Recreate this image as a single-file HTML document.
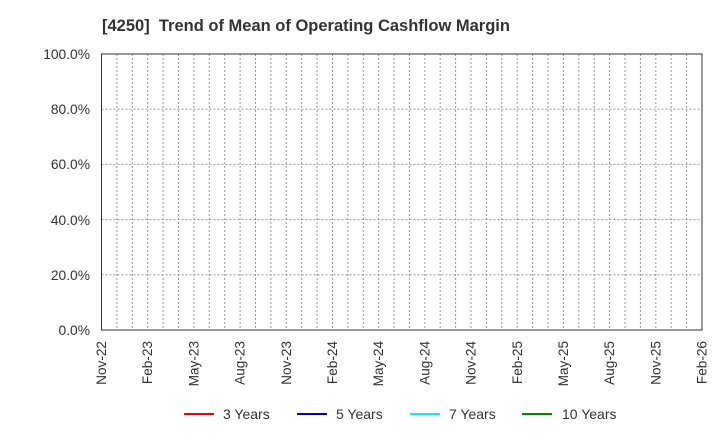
<!DOCTYPE html>
<html><head><meta charset="utf-8"><style>body{margin:0;background:#fff}svg{display:block}</style></head><body>
<svg width="720" height="440" xmlns="http://www.w3.org/2000/svg" font-family="Liberation Sans, sans-serif">
<text x="102" y="31" font-size="16.5" font-weight="bold" fill="#333">[4250]&#160; Trend of Mean of Operating Cashflow Margin</text>
<path fill="none" stroke="#999" stroke-dasharray="2,2" d="M116.9 54V330M132.3 54V330M147.7 54V330M163.1 54V330M178.5 54V330M193.9 54V330M209.3 54V330M224.7 54V330M240.1 54V330M255.5 54V330M270.9 54V330M286.3 54V330M301.7 54V330M317.1 54V330M332.5 54V330M347.9 54V330M363.3 54V330M378.7 54V330M394.1 54V330M409.4 54V330M424.8 54V330M440.2 54V330M455.6 54V330M471 54V330M486.4 54V330M501.8 54V330M517.2 54V330M532.6 54V330M548 54V330M563.4 54V330M578.8 54V330M594.2 54V330M609.6 54V330M625 54V330M640.4 54V330M655.8 54V330M671.2 54V330M686.6 54V330M101.5 109.2H702M101.5 164.4H702M101.5 219.6H702M101.5 274.8H702"/>
<rect x="101.5" y="54" width="600.5" height="276" fill="none" stroke="#333" stroke-width="1"/>
<g font-size="13.8" fill="#333" text-anchor="end">
<text x="90" y="59">100.0%</text><text x="90" y="114">80.0%</text><text x="90" y="169">60.0%</text><text x="90" y="225">40.0%</text><text x="90" y="280">20.0%</text><text x="90" y="335">0.0%</text>
</g>
<g font-size="13.6" fill="#333" text-anchor="end">
<text transform="translate(106,341) rotate(-90)">Nov-22</text>
<text transform="translate(152.2,341) rotate(-90)">Feb-23</text>
<text transform="translate(198.4,341) rotate(-90)">May-23</text>
<text transform="translate(244.6,341) rotate(-90)">Aug-23</text>
<text transform="translate(290.8,341) rotate(-90)">Nov-23</text>
<text transform="translate(337,341) rotate(-90)">Feb-24</text>
<text transform="translate(383.2,341) rotate(-90)">May-24</text>
<text transform="translate(429.4,341) rotate(-90)">Aug-24</text>
<text transform="translate(475.6,341) rotate(-90)">Nov-24</text>
<text transform="translate(521.8,341) rotate(-90)">Feb-25</text>
<text transform="translate(567.9,341) rotate(-90)">May-25</text>
<text transform="translate(614.1,341) rotate(-90)">Aug-25</text>
<text transform="translate(660.3,341) rotate(-90)">Nov-25</text>
<text transform="translate(706.5,341) rotate(-90)">Feb-26</text>
</g>
<g font-size="14" fill="#333">
<line x1="184" y1="414" x2="214" y2="414" stroke="#e00" stroke-width="2"/><text x="223" y="419">3 Years</text>
<line x1="297" y1="414" x2="327" y2="414" stroke="#00c" stroke-width="2"/><text x="336" y="419">5 Years</text>
<line x1="410" y1="414" x2="440" y2="414" stroke="#0ee" stroke-width="2"/><text x="449" y="419">7 Years</text>
<line x1="522" y1="414" x2="552" y2="414" stroke="#080" stroke-width="2"/><text x="562" y="419">10 Years</text>
</g>
</svg>
</body></html>
